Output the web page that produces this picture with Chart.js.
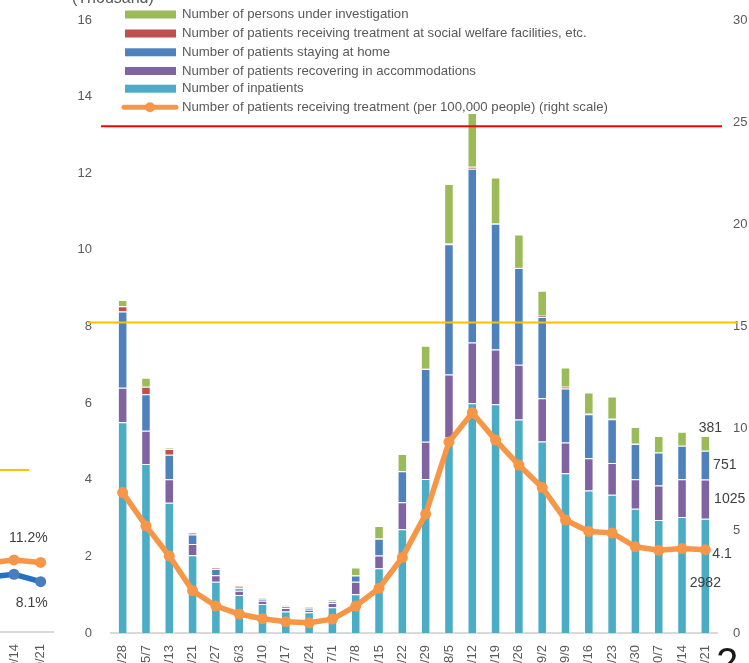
<!DOCTYPE html>
<html lang="en">
<head>
<meta charset="UTF-8">
<title>Patients receiving treatment</title>
<script src="https://cdn.jsdelivr.net/npm/chart.js"></script>
<style>
  html, body { margin: 0; padding: 0; background: #fff; overflow: hidden; width: 749px; height: 663px; }
  #wrap { position: relative; width: 749px; height: 663px; overflow: hidden; }
  #side { position: absolute; left: -26px; top: 0; }
  #main { position: absolute; left: 0; top: 0; }
  #page { position: absolute; left: 716px; top: 642px; font: 40px "Liberation Sans", Arial, sans-serif; line-height: 40px; color: #1a1a1a; }
</style>
</head>
<body>
<div id="wrap">
  <canvas id="side" width="80" height="720"></canvas>
  <canvas id="main" width="749" height="720"></canvas>
  <div id="page">2</div>
</div>
<script>
// weekly dates (2021)
const dates = ['4/28','5/7','5/13','5/21','5/27','6/3','6/10','6/17','6/24','7/1','7/8','7/15','7/22',
               '7/29','8/5','8/12','8/19','8/26','9/2','9/9','9/16','9/23','9/30','10/7','10/14','10/21'];

// thousands of people
const inpatients     = [5.50,4.41,3.40,2.03,1.34,0.99,0.76,0.56,0.54,0.67,1.01,1.69,2.71,4.02,5.10,6.00,5.97,5.57,5.00,4.17,3.72,3.61,3.24,2.95,3.03,2.982];
const accommodations = [0.90,0.87,0.61,0.29,0.17,0.11,0.08,0.09,0.07,0.11,0.33,0.33,0.70,0.97,1.65,1.58,1.43,1.43,1.13,0.80,0.84,0.83,0.77,0.90,0.98,1.025];
const atHome         = [1.99,0.95,0.64,0.25,0.16,0.07,0.05,0.05,0.04,0.05,0.16,0.44,0.81,1.90,3.40,4.54,3.28,2.53,2.12,1.41,1.15,1.14,0.92,0.86,0.88,0.751];
const welfare        = [0.14,0.20,0.15,0.05,0.03,0.03,0.01,0.01,0.01,0.01,0.01,0.01,0.01,0.01,0.02,0.05,0.02,0.02,0.03,0.05,0.01,0.01,0.01,0.00,0.00,0.00];
const investigation  = [0.16,0.23,0.03,0.01,0.01,0.03,0.02,0.02,0.03,0.04,0.20,0.32,0.44,0.60,1.55,1.40,1.19,0.85,0.65,0.50,0.56,0.58,0.44,0.43,0.36,0.381];

// per 100,000 people (right scale)
const per100k = [6.87,5.24,3.77,2.07,1.32,0.93,0.70,0.55,0.50,0.68,1.32,2.19,3.70,5.82,9.35,10.78,9.44,8.22,7.12,5.53,4.97,4.90,4.22,4.05,4.13,4.08];

// threshold lines on the right scale
const redLevel = 24.8;
const yellowLevel = 15.2;

// partial neighbouring chart on the left edge
const sideDates = ['10/7','10/14','10/21'];
const sideOrange = [11.1, 11.6, 11.2];
const sideBlue = [8.8, 9.3, 8.1];
const sideYellow = 26.1;

const FONT = '"Liberation Sans", Arial, sans-serif';
const GREY = '#595959';
Chart.defaults.font.family = FONT;
Chart.defaults.color = GREY;

const colors = {
  inpatients: '#4bacc6',
  accommodations: '#8064a2',
  home: '#4f81bd',
  welfare: '#c0504d',
  investigation: '#9bbb59',
  line: '#f79646'
};

function barSet(label, data, color) {
  return {
    type: 'bar', label: label, data: data, backgroundColor: color,
    borderColor: 'rgba(255,255,255,0.55)', borderWidth: 1,
    yAxisID: 'y', stack: 's', order: 2,
    barPercentage: 0.41, categoryPercentage: 1
  };
}

// tick labels add padding around the plot; keep the plot edges where they belong
function noSidePad(s) {
  s.paddingLeft = 0;
  s.paddingRight = 0;
}
function noEndPad(s) {
  s.paddingTop = 0;
  s.paddingBottom = 0;
}

const overlay = {
  id: 'overlay',
  afterDatasetsDraw(chart) {
    const ctx = chart.ctx, area = chart.chartArea, y1 = chart.scales.y1;
    ctx.save();
    ctx.lineWidth = 2;
    ctx.strokeStyle = '#ff0000';
    ctx.beginPath();
    ctx.moveTo(area.left - 10, y1.getPixelForValue(redLevel));
    ctx.lineTo(area.right + 5, y1.getPixelForValue(redLevel));
    ctx.stroke();
    ctx.strokeStyle = '#ffc000';
    ctx.beginPath();
    ctx.moveTo(area.left - 23, y1.getPixelForValue(yellowLevel));
    ctx.lineTo(area.right + 20, y1.getPixelForValue(yellowLevel));
    ctx.stroke();
    ctx.restore();
  },
  afterDraw(chart) {
    const ctx = chart.ctx;
    ctx.save();
    // axis unit, cut at the top
    ctx.font = '16px ' + FONT;
    ctx.fillStyle = GREY;
    ctx.textBaseline = 'alphabetic';
    ctx.fillText('(Thousand)', 72, 3);

    // legend
    ctx.font = '13.2px ' + FONT;
    ctx.textBaseline = 'middle';
    const ds = chart.data.datasets;
    const orderIdx = [4, 3, 2, 1, 0, 5];
    const rowY = [14.5, 33.5, 52.3, 71, 88.7, 107.3];
    orderIdx.forEach((i, r) => {
      const y = rowY[r];
      if (ds[i].type === 'line') {
        ctx.strokeStyle = ds[i].borderColor;
        ctx.lineWidth = 5;
        ctx.lineCap = 'round';
        ctx.beginPath();
        ctx.moveTo(124, y);
        ctx.lineTo(176, y);
        ctx.stroke();
        ctx.fillStyle = ds[i].borderColor;
        ctx.beginPath();
        ctx.arc(150, y, 5, 0, Math.PI * 2);
        ctx.fill();
      } else {
        ctx.fillStyle = ds[i].backgroundColor;
        ctx.fillRect(125, y - 4, 51, 8);
      }
      ctx.fillStyle = GREY;
      ctx.fillText(ds[i].label, 182, y);
    });

    // value labels on the last week
    const last = dates.length - 1;
    const el = k => chart.getDatasetMeta(k).data[last];
    ctx.font = '14px ' + FONT;
    ctx.fillStyle = '#404040';
    const cy = e => (e.y + e.base) / 2;
    const inp = el(0), acc = el(1), home = el(2), inv = el(4), pt = el(5);
    ctx.textAlign = 'center';
    ctx.fillText(Math.round(inpatients[last] * 1000), inp.x, cy(inp) + 7);
    ctx.fillText(Math.round(investigation[last] * 1000), inv.x + 5, inv.y - 8);
    ctx.textAlign = 'left';
    ctx.fillText(Math.round(accommodations[last] * 1000), acc.x + acc.width / 2 + 4, cy(acc));
    ctx.fillText(Math.round(atHome[last] * 1000), home.x + home.width / 2 + 3, cy(home));
    ctx.fillText(per100k[last].toFixed(1), pt.x + 7, pt.y + 5);
    ctx.restore();
  }
};

new Chart(document.getElementById('main'), {
  data: {
    labels: dates,
    datasets: [
      barSet('Number of inpatients', inpatients, colors.inpatients),
      barSet('Number of patients recovering in accommodations', accommodations, colors.accommodations),
      barSet('Number of patients staying at home', atHome, colors.home),
      barSet('Number of patients receiving treatment at social welfare facilities, etc.', welfare, colors.welfare),
      barSet('Number of persons under investigation', investigation, colors.investigation),
      {
        type: 'line',
        label: 'Number of patients receiving treatment (per 100,000 people) (right scale)',
        data: per100k, yAxisID: 'y1', order: 0,
        borderColor: colors.line, backgroundColor: colors.line,
        borderWidth: 5.5, pointRadius: 5.5, pointBackgroundColor: colors.line,
        pointBorderWidth: 0, tension: 0
      }
    ]
  },
  options: {
    responsive: false,
    animation: false,
    layout: { autoPadding: false, padding: { top: 20, left: 0, right: 0, bottom: 0 } },
    plugins: { legend: { display: false }, tooltip: { enabled: false } },
    scales: {
      x: {
        stacked: true,
        grid: { display: false, drawTicks: false },
        border: { color: '#d9d9d9', width: 2 },
        ticks: { minRotation: 90, maxRotation: 90, autoSkip: false, padding: 12, font: { size: 13 } },
        afterFit: s => { s.height = 87; noSidePad(s); }
      },
      y: {
        stacked: true, position: 'left', min: 0, max: 16,
        grid: { display: false, drawTicks: false },
        border: { display: false },
        ticks: { stepSize: 2, padding: 19, font: { size: 13 } },
        afterFit: s => { s.width = 111; noEndPad(s); }
      },
      y1: {
        position: 'right', min: 0, max: 30,
        grid: { display: false, drawTicks: false },
        border: { display: false },
        ticks: { stepSize: 5, padding: 16, font: { size: 13 } },
        afterFit: s => { s.width = 32; noEndPad(s); }
      }
    }
  },
  plugins: [overlay]
});

// neighbouring chart (only its right end is on the page)
const sideOverlay = {
  id: 'sideOverlay',
  afterDraw(chart) {
    const ctx = chart.ctx, area = chart.chartArea, y = chart.scales.y;
    ctx.save();
    ctx.strokeStyle = '#ffc000';
    ctx.lineWidth = 2;
    ctx.beginPath();
    ctx.moveTo(area.left, y.getPixelForValue(sideYellow));
    ctx.lineTo(area.right - 25, y.getPixelForValue(sideYellow));
    ctx.stroke();
    const last = sideDates.length - 1;
    const o = chart.getDatasetMeta(0).data[last];
    const b = chart.getDatasetMeta(1).data[last];
    ctx.font = '14px ' + FONT;
    ctx.fillStyle = '#404040';
    ctx.textAlign = 'right';
    ctx.textBaseline = 'middle';
    ctx.fillText(sideOrange[last].toFixed(1) + '%', o.x + 7, o.y - 24);
    ctx.fillText(sideBlue[last].toFixed(1) + '%', b.x + 7, b.y + 21);
    ctx.restore();
  }
};

new Chart(document.getElementById('side'), {
  type: 'line',
  data: {
    labels: sideDates,
    datasets: [
      { data: sideOrange, borderColor: '#f79646', backgroundColor: '#f79646', borderWidth: 5.5,
        pointRadius: 5.5, pointBorderWidth: 0, pointBackgroundColor: '#f79646' },
      { data: sideBlue, borderColor: '#2570c0', backgroundColor: '#4a7ebb', borderWidth: 5.5,
        pointRadius: 5.5, pointBorderWidth: 0, pointBackgroundColor: '#4a7ebb' }
    ]
  },
  options: {
    responsive: false,
    animation: false,
    layout: { autoPadding: false, padding: { top: 11, left: 0, right: 0, bottom: 0 } },
    plugins: { legend: { display: false }, tooltip: { enabled: false } },
    scales: {
      x: {
        offset: true,
        grid: { display: false, drawTicks: false },
        border: { color: '#d9d9d9', width: 2 },
        ticks: { minRotation: 90, maxRotation: 90, autoSkip: false, padding: 12, font: { size: 13 } },
        afterFit: s => { s.height = 88; noSidePad(s); }
      },
      y: { display: false, min: 0, max: 100 }
    }
  },
  plugins: [sideOverlay]
});
</script>
</body>
</html>
